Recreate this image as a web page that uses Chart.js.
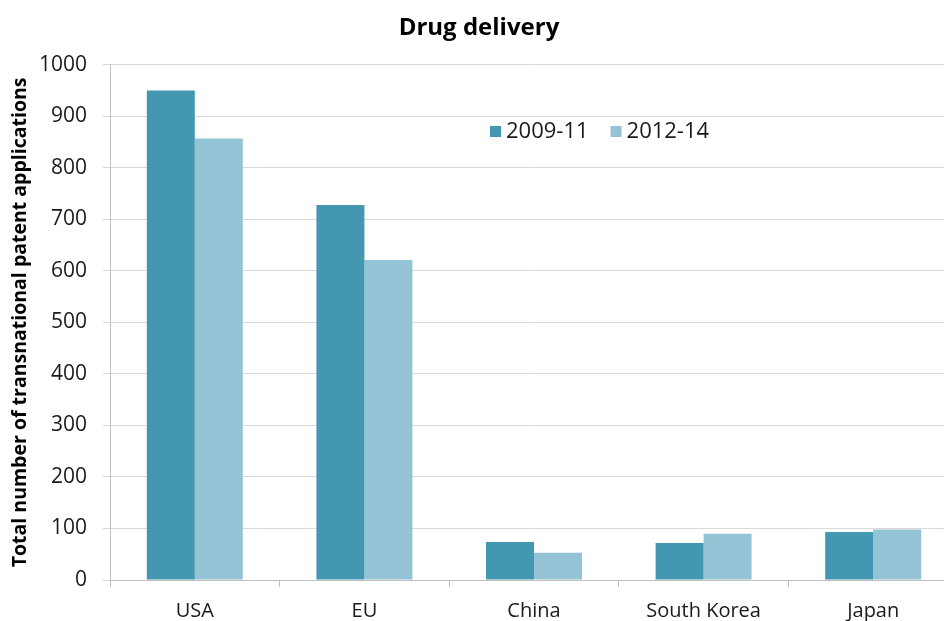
<!DOCTYPE html>
<html>
<head>
<meta charset="utf-8">
<script src="https://cdn.jsdelivr.net/npm/chart.js@4/dist/chart.umd.min.js"></script>
<style>
  html, body { margin: 0; padding: 0; background: #fff; overflow: hidden; }
  #wrap { width: 944px; height: 621px; overflow: hidden; }
</style>
</head>
<body>
<div id="wrap"><canvas id="chart" width="960" height="621"></canvas></div>
<script>
const regions = ["USA", "EU", "China", "South Korea", "Japan"];
const early = [950, 728, 74, 72, 93];
const late = [857, 621, 53, 90, 98];
const seriesNames = ["2009-11", "2012-14"];
const yTicks = [0, 100, 200, 300, 400, 500, 600, 700, 800, 900, 1000];

const darkBlue = "#4397b0";
const lightBlue = "#93c3d5";
const fontName = "'Open Sans', sans-serif";

// legend sits inside the plot, so draw it by hand
const innerLegend = {
  id: "innerLegend",
  afterDraw(chart) {
    const c = chart.ctx;
    const items = chart.data.datasets;
    let x = 490;
    const y = 131;
    c.save();
    c.font = "22px " + fontName;
    c.textBaseline = "middle";
    items.forEach((ds) => {
      c.fillStyle = ds.backgroundColor;
      c.fillRect(x, y - 5, 11, 11);
      c.fillStyle = "#1a1a1a";
      c.fillText(ds.label, x + 16, y + 1);
      x += 16 + c.measureText(ds.label).width + 22;
    });
    c.restore();
  },
};

const ctx = document.getElementById("chart");
new Chart(ctx, {
  type: "bar",
  data: {
    labels: regions,
    datasets: [
      { label: seriesNames[0], data: early, backgroundColor: darkBlue },
      { label: seriesNames[1], data: late, backgroundColor: lightBlue },
    ],
  },
  plugins: [innerLegend],
  options: {
    responsive: false,
    animation: false,
    categoryPercentage: 0.566,
    barPercentage: 1,
    layout: { padding: { left: 0, right: 2, top: 0, bottom: 0 } },
    scales: {
      x: {
        grid: {
          drawOnChartArea: false,
          drawTicks: true,
          tickLength: 7,
          color: "#bfbfbf",
        },
        border: { color: "#bfbfbf", width: 1 },
        ticks: {
          padding: 12,
          color: "#1a1a1a",
          font: { family: fontName, size: 20 },
        },
        afterFit(scale) {
          scale.height = 41;
        },
      },
      y: {
        min: 0,
        max: 1000,
        afterBuildTicks(scale) {
          scale.ticks = yTicks.map((v) => ({ value: v }));
        },
        grid: { color: "#d9d9d9", tickLength: 7 },
        border: { color: "#bfbfbf", width: 1 },
        ticks: {
          padding: 16,
          color: "#1a1a1a",
          font: { family: fontName, size: 21 },
          callback: (v) => String(v),
        },
        title: {
          display: true,
          text: "Total number of transnational patent applications",
          color: "#000",
          font: { family: fontName, size: 19.5, weight: "bold" },
          padding: { top: 9, bottom: 0 },
        },
        afterFit(scale) {
          scale.width = 110;
        },
      },
    },
    plugins: {
      legend: { display: false },
      tooltip: { enabled: false },
      title: {
        display: true,
        text: "Drug delivery",
        color: "#000",
        font: { family: fontName, size: 24, weight: "bold" },
        padding: { top: 14, bottom: 22 },
      },
    },
  },
});
</script>
</body>
</html>
